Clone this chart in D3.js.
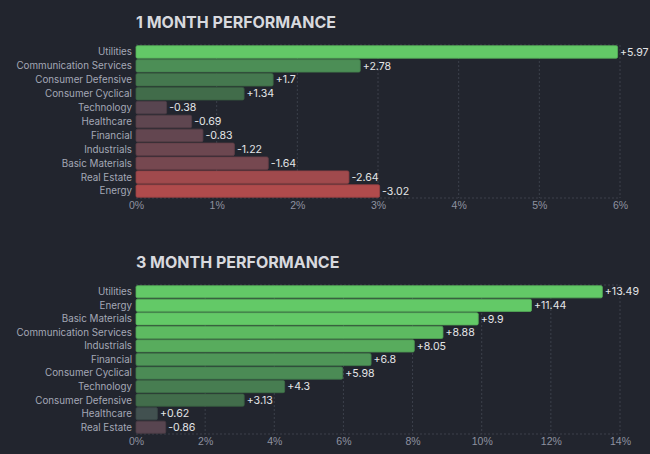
<!DOCTYPE html>
<html>
<head>
<meta charset="utf-8">
<script src="https://d3js.org/d3.v7.min.js"></script>
<style>
  html, body { margin: 0; padding: 0; background: #22252e; }
  svg { display: block; font-family: Inter, "Noto Sans", sans-serif; }
  .title { fill: #d8d9de; font-weight: 700; font-size: 16px; }
  .cat { fill: #a4a8b6; font-size: 9.8px; }
  .val { fill: #e4e5e8; font-size: 10.6px; }
  .tick text { fill: #8e92a0; font-size: 10.5px; }
  .grid line { stroke: #3c404b; stroke-dasharray: 2,2; }
</style>
</head>
<body>
<svg width="650" height="454"></svg>
<script>
// 1 month
var cats1 = ["Utilities", "Communication Services", "Consumer Defensive", "Consumer Cyclical",
  "Technology", "Healthcare", "Financial", "Industrials", "Basic Materials", "Real Estate", "Energy"];
var vals1 = [5.97, 2.78, 1.7, 1.34, -0.38, -0.69, -0.83, -1.22, -1.64, -2.64, -3.02];
var ticks1 = [0, 1, 2, 3, 4, 5, 6];

// 3 month
var cats3 = ["Utilities", "Energy", "Basic Materials", "Communication Services", "Industrials",
  "Financial", "Consumer Cyclical", "Technology", "Consumer Defensive", "Healthcare", "Real Estate"];
var vals3 = [13.49, 11.44, 9.9, 8.88, 8.05, 6.8, 5.98, 4.3, 3.13, 0.62, -0.86];
var ticks3 = [0, 2, 4, 6, 8, 10, 12, 14];

var svg = d3.select("svg");

// colour depends on value relative to the largest value of the panel
var color = d3.scaleLinear()
  .domain([-0.5, -0.3, -0.05, 0, 0.22, 0.3, 0.47, 0.6, 0.73, 1])
  .range(["#b04b4c", "#7a4850", "#564550", "#424a52", "#416b4a", "#467b50",
          "#4c8e56", "#58ad5d", "#63c967", "#63c967"])
  .clamp(true);

function panel(title, cats, vals, ticks, top, bottom) {
  var x = d3.scaleLinear().domain([0, d3.max(ticks)]).range([136, 620]);
  var y = d3.scaleBand().domain(cats).range([top, bottom]).paddingInner(0.1).paddingOuter(0.05);
  var mx = d3.max(vals.map(Math.abs));
  var g = svg.append("g");

  g.append("text").attr("class", "title")
    .attr("x", 136).attr("y", top - 17)
    .text(title);

  var grid = g.append("g").attr("class", "grid");
  grid.selectAll("line.v").data(ticks.slice(1)).enter().append("line")
    .attr("x1", d => x(d)).attr("x2", d => x(d))
    .attr("y1", top).attr("y2", bottom);
  grid.append("line").attr("x1", 136).attr("x2", 620).attr("y1", top).attr("y2", top);
  grid.append("line").attr("x1", 136).attr("x2", 620).attr("y1", bottom).attr("y2", bottom);

  g.append("g").attr("class", "tick-axis")
    .attr("transform", "translate(0," + bottom + ")")
    .call(d3.axisBottom(x).tickValues(ticks).tickSize(0).tickPadding(4).tickFormat(d => d + "%"))
    .call(a => a.select(".domain").remove());

  g.selectAll("text.cat").data(cats).enter().append("text")
    .attr("class", "cat")
    .attr("x", 132).attr("y", d => y(d) + y.bandwidth() / 2)
    .attr("dy", "0.35em").attr("text-anchor", "end")
    .text(d => d);

  g.selectAll("rect.bar").data(vals).enter().append("rect")
    .attr("class", "bar")
    .attr("x", x(0)).attr("y", (d, i) => y(cats[i]))
    .attr("width", d => x(Math.abs(d)) - x(0))
    .attr("height", y.bandwidth())
    .attr("rx", 1.5)
    .attr("fill", d => color(d / mx))
    .attr("stroke", d => d3.color(color(d / mx)).darker(0.4))
    .attr("stroke-width", 0.8);

  g.selectAll("text.val").data(vals).enter().append("text")
    .attr("class", "val")
    .attr("x", d => x(Math.abs(d)) + 2.5)
    .attr("y", (d, i) => y(cats[i]) + y.bandwidth() / 2)
    .attr("dy", "0.35em")
    .text(d => (d > 0 ? "+" : "") + d);
}

panel("1 MONTH PERFORMANCE", cats1, vals1, ticks1, 45, 198);
panel("3 MONTH PERFORMANCE", cats3, vals3, ticks3, 285, 434);
</script>
</body>
</html>
